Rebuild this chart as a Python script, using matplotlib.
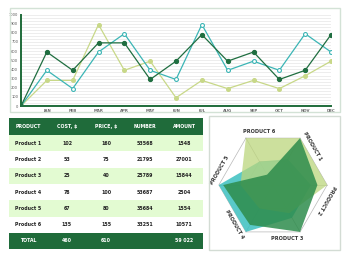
import numpy as np
import matplotlib.pyplot as plt
from matplotlib.patches import Rectangle

W, H = 347, 280

# --- data ---
months = ['', 'JAN', 'FEB', 'MAR', 'APR', 'MAY', 'JUN', 'JUL', 'AUG', 'SEP', 'OCT', 'NOV', 'DEC']
dark_line = [0, 590, 390, 690, 690, 290, 490, 780, 490, 590, 290, 390, 780]
teal_line = [0, 390, 190, 590, 790, 390, 290, 890, 390, 490, 390, 790, 590]
olive_line = [0, 280, 280, 890, 390, 490, 90, 280, 190, 280, 190, 330, 490]

col_names = ['PRODUCT', 'COST, $', 'PRICE, $', 'NUMBER', 'AMOUNT']
products = ['Product 1', 'Product 2', 'Product 3', 'Product 4', 'Product 5', 'Product 6']
cost = ['102', '53', '25', '78', '67', '135']
price = ['160', '75', '40', '100', '80', '155']
number = ['53568', '21795', '25789', '53687', '35684', '33251']
amount = ['1548', '27001', '15844', '2504', '1554', '10571']
total_row = ['TOTAL', '460', '610', '', '59 022']

radar_labels = ['PRODUCT 6', 'PRODUCT 1', 'PRODUCT 2', 'PRODUCT 3', 'PRODUCT 4', 'PRODUCT 5']
# values on spokes: top-left, top-right, right, bottom-right, bottom-left, left
radar_olive = [1.0, 1.0, 1.0, 0.6, 0.5, 0.6]
radar_teal = [0.5, 0.55, 0.7, 0.7, 1.0, 1.0]
radar_dark = [0.22, 1.0, 0.82, 1.0, 0.85, 0.92]

DARK = '#1f6b3a'
LIGHT_ROW = '#e3fbd2'


def px_axes(fig, x0, y0, x1, y1, **kw):
    return fig.add_axes([x0 / W, 1 - y1 / H, (x1 - x0) / W, (y1 - y0) / H], **kw)


fig = plt.figure(figsize=(W / 100, H / 100), dpi=100)
fig.patch.set_facecolor('white')

# frames
fig.patches.append(Rectangle((10 / W, 1 - 112 / H), 330 / W, 104 / H, transform=fig.transFigure,
                             fill=False, edgecolor='#d3e2d6', lw=1))
fig.patches.append(Rectangle((209 / W, 1 - 250 / H), 131 / W, 134 / H, transform=fig.transFigure,
                             fill=False, edgecolor='#d3dcd4', lw=1))

# --- line chart ---
ax = px_axes(fig, 21, 14.5, 331, 106)
x = np.arange(len(months))
for yv in np.linspace(0, 1000, 31)[1:]:
    ax.axhline(yv, color='#e6e6e6', lw=0.5, zorder=0)
ax.plot(x, olive_line, color='#c8d888', lw=0.9, marker='o', ms=2.6, mfc='#c8d888', mec='#c8d888', zorder=2)
ax.plot(x, teal_line, color='#3bb5b5', lw=0.9, marker='o', ms=2.8, mfc='white', mec='#3bb5b5', mew=0.8, zorder=3)
ax.plot(x, dark_line, color='#1f6e40', lw=0.9, marker='o', ms=2.8, mfc='#1f6e40', mec='#1f6e40', zorder=4)
ax.set_xlim(0, 12)
ax.set_ylim(0, 1000)
ax.set_xticks(x)
ax.set_xticklabels(months, fontsize=2.8, fontweight='bold', color='#666666')
ax.set_yticks(np.arange(0, 1001, 100))
ax.set_yticklabels([str(v) for v in range(0, 1001, 100)], fontsize=2.6, color='#555555')
ax.tick_params(length=0, pad=2)
for s in ['top', 'right']:
    ax.spines[s].set_visible(False)
for s in ['left', 'bottom']:
    ax.spines[s].set_color(DARK)
    ax.spines[s].set_linewidth(1.4)

# --- table ---
tax = px_axes(fig, 0, 110, 210, 260)
tax.set_xlim(0, 210)
tax.set_ylim(260, 110)
tax.axis('off')
col_x = [28, 67, 106, 145, 184]
top, hh, rh = 118, 17, 16.3
tax.add_patch(Rectangle((9, top), 194, hh, color=DARK, lw=0))
for c, name in zip(col_x, col_names):
    tax.text(c, top + hh / 2, name, ha='center', va='center', fontsize=3.4, fontweight='bold', color='white')
rows = list(zip(products, cost, price, number, amount))
for i, row in enumerate(rows):
    y0 = top + hh + i * rh
    if i % 2 == 0:
        tax.add_patch(Rectangle((9, y0), 194, rh, color=LIGHT_ROW, lw=0))
    for c, val in zip(col_x, row):
        tax.text(c, y0 + rh / 2, val, ha='center', va='center', fontsize=3.4, fontweight='bold', color='#222222')
yt = top + hh + len(rows) * rh
tax.add_patch(Rectangle((9, yt), 194, 16, color=DARK, lw=0))
for c, val in zip(col_x, total_row):
    tax.text(c, yt + 8, val, ha='center', va='center', fontsize=3.4, fontweight='bold', color='white')

# --- radar ---
rax = px_axes(fig, 273 - 65, 185 - 65, 273 + 65, 185 + 65)
rax.set_xlim(-1.2, 1.2)
rax.set_ylim(-1.2, 1.2)
rax.axis('off')
ang = np.deg2rad([120, 60, 0, -60, -120, 180])
for r in [0.5, 1.0]:
    rax.plot(np.append(r * np.cos(ang), r * np.cos(ang[0])), np.append(r * np.sin(ang), r * np.sin(ang[0])),
             color='#b8b8b8', lw=0.5, zorder=1)
for a in ang:
    rax.plot([0, np.cos(a)], [0, np.sin(a)], color='#b8b8b8', lw=0.5, zorder=1)


def poly(vals, color, alpha, z):
    v = np.array(vals)
    rax.fill(v * np.cos(ang), v * np.sin(ang), color=color, alpha=alpha, lw=0, zorder=z)


poly(radar_teal, '#3cc0c0', 0.85, 2)
poly(radar_olive, '#bcd67c', 0.75, 3)
poly(radar_dark, '#2e8c4c', 0.85, 4)

lab_ang = [105, 45, -15, -75, -135, 165]
lab_rot = [0, -60, -120, 0, -60, 60]
for lab, a, rot in zip(radar_labels, lab_ang, lab_rot):
    t = np.deg2rad(a)
    rax.text(1.02 * np.cos(t), 1.02 * np.sin(t), lab, rotation=rot, ha='center', va='center',
             fontsize=3.6, fontweight='bold', color='#333333', zorder=5)

fig.savefig('out.png', dpi=100)
